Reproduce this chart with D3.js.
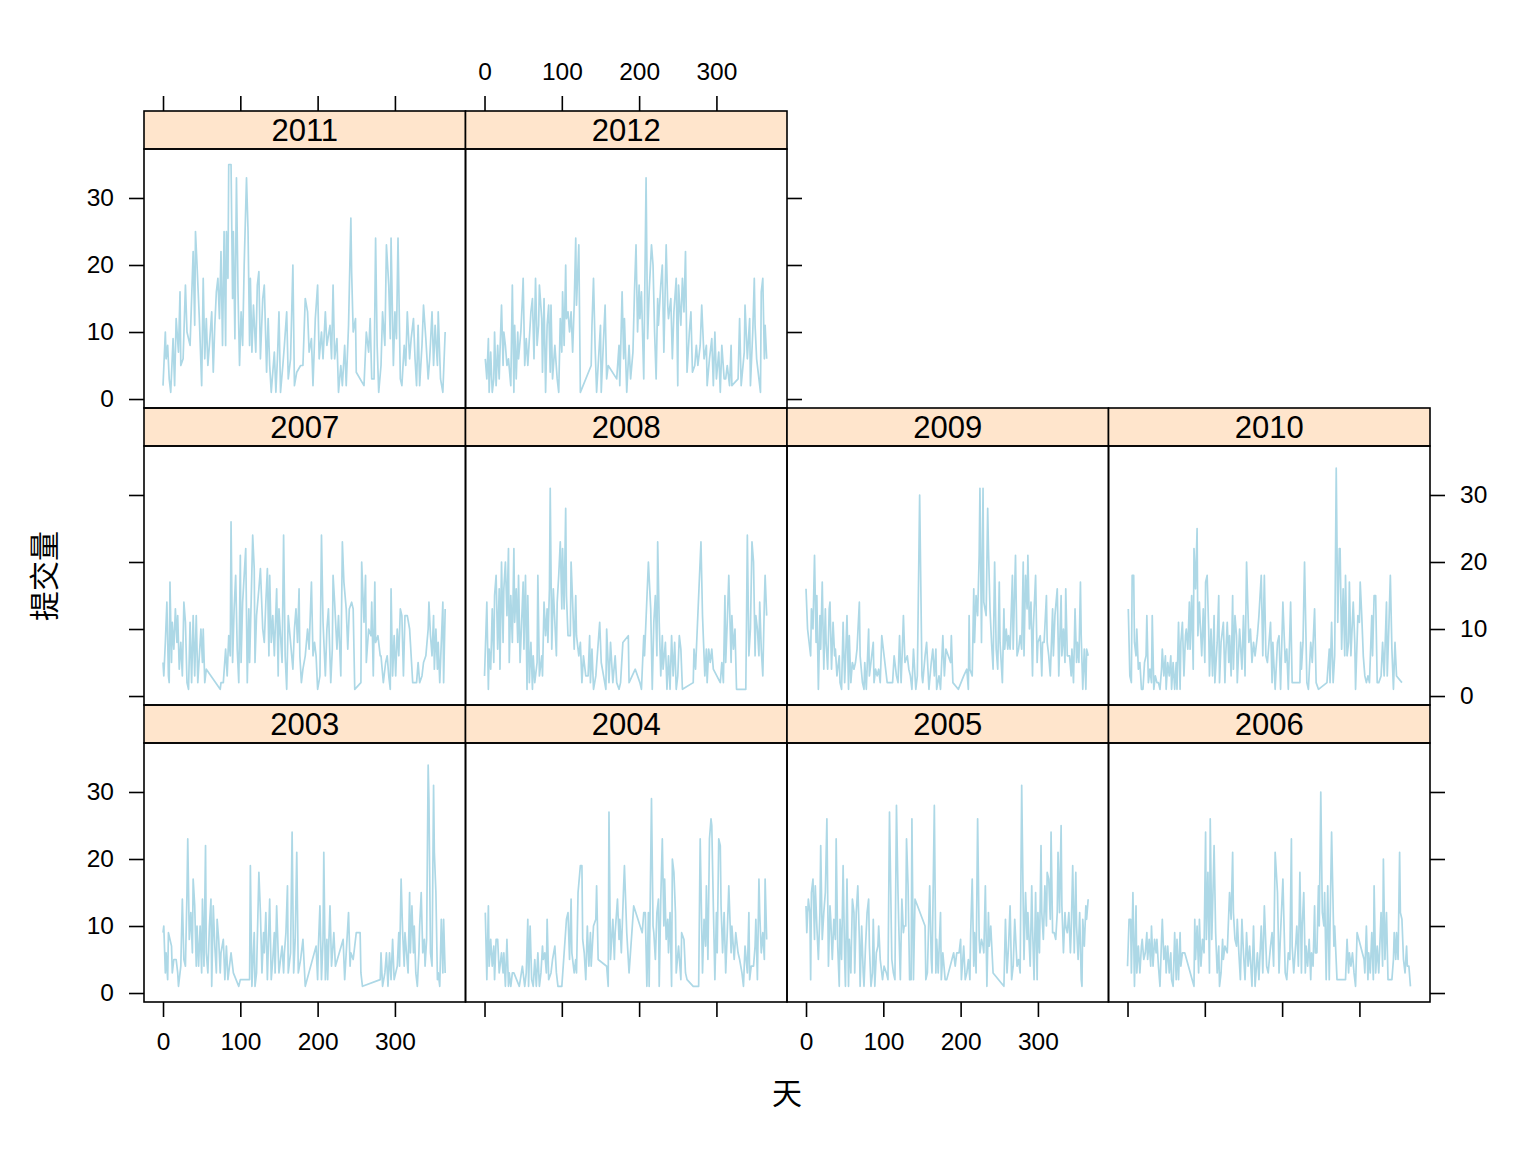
<!DOCTYPE html>
<html>
<head>
<meta charset="utf-8">
<script src="https://cdn.jsdelivr.net/npm/d3@7"></script>
<style>
  body { margin: 0; background: #fff; }
  text { font-family: "Liberation Sans", Arial, sans-serif; }
</style>
</head>
<body>
<div id="chart"></div>
<script>
// daily submission counts per year, [day, count]
const y2003 = [[0,9],[1,10],[3,3],[4,6],[6,2],[7,9],[9,8],[11,7],[12,3],[14,5],[17,5],[19,3],[20,1],[23,4],[25,14],[27,5],[29,4],[31,15],[32,23],[34,8],[36,12],[38,6],[39,17],[41,13],[43,4],[44,10],[46,4],[48,10],[50,3],[51,14],[53,4],[55,22],[56,6],[58,3],[60,10],[62,14],[63,1],[65,13],[67,7],[69,3],[70,11],[72,8],[74,3],[75,6],[78,8],[80,2],[82,7],[84,2],[87,5],[88,6],[91,3],[98,1],[100,2],[112,2],[113,19],[115,1],[118,9],[119,1],[121,3],[124,18],[126,12],[128,3],[130,9],[131,6],[133,12],[135,2],[137,10],[138,14],[140,2],[142,5],[144,9],[145,3],[147,13],[149,6],[150,3],[152,5],[154,7],[156,3],[157,6],[159,9],[161,16],[162,3],[165,6],[167,24],[169,3],[171,8],[173,21],[175,3],[178,5],[181,8],[184,1],[198,7],[200,2],[201,7],[203,13],[205,2],[207,8],[208,21],[210,2],[212,8],[213,2],[216,13],[218,4],[221,9],[223,4],[233,8],[235,2],[238,8],[240,12],[242,4],[243,6],[246,5],[250,9],[255,9],[256,3],[258,1],[281,2],[282,6],[284,1],[287,3],[289,6],[291,1],[293,6],[295,2],[297,8],[299,2],[301,3],[303,4],[305,9],[306,4],[308,17],[310,9],[312,4],[313,9],[315,6],[317,3],[319,15],[320,6],[322,13],[324,6],[325,10],[327,3],[329,1],[331,6],[332,10],[334,15],[336,6],[338,8],[339,4],[341,8],[343,34],[344,29],[346,6],[348,4],[350,31],[351,21],[353,15],[355,2],[356,3],[358,1],[360,11],[362,3],[363,11],[365,3]];
const y2004 = [[1,12],[3,2],[5,13],[6,4],[8,8],[10,4],[12,7],[13,2],[15,8],[17,8],[19,3],[20,4],[22,6],[24,3],[25,6],[27,1],[29,8],[31,1],[32,3],[34,1],[36,3],[38,3],[45,1],[49,4],[50,3],[52,1],[54,3],[56,11],[57,1],[59,10],[61,2],[63,1],[65,5],[67,1],[69,6],[71,1],[73,3],[75,7],[76,5],[78,6],[80,3],[81,11],[83,2],[86,3],[88,5],[91,7],[93,3],[95,1],[100,1],[106,11],[108,12],[110,5],[112,14],[113,6],[116,3],[118,5],[119,3],[121,15],[124,19],[126,19],[127,8],[129,6],[131,2],[133,10],[135,4],[137,9],[138,4],[141,10],[144,11],[145,16],[147,5],[158,4],[160,1],[161,27],[163,5],[166,11],[168,5],[169,9],[172,14],[174,8],[175,11],[177,6],[180,16],[181,19],[184,9],[187,3],[193,13],[204,9],[206,12],[208,12],[210,1],[212,12],[213,1],[216,29],[218,10],[219,9],[221,5],[223,12],[225,14],[226,1],[228,14],[230,23],[232,10],[233,17],[235,8],[237,11],[238,6],[240,12],[242,1],[243,20],[245,18],[247,12],[248,3],[251,7],[254,2],[255,9],[258,8],[260,3],[262,2],[270,1],[277,1],[279,23],[282,3],[284,11],[286,7],[287,16],[289,5],[291,23],[293,26],[294,25],[296,13],[298,2],[300,12],[301,6],[303,23],[305,22],[306,13],[308,6],[310,12],[312,3],[314,9],[316,16],[319,6],[320,10],[323,5],[325,9],[328,6],[330,5],[333,3],[335,1],[337,7],[340,3],[342,12],[343,2],[345,4],[348,4],[350,7],[351,11],[353,2],[355,17],[356,12],[358,6],[360,9],[362,5],[363,17],[365,8]];
const y2005 = [[0,13],[1,9],[3,14],[5,12],[6,2],[7,15],[9,17],[11,8],[12,16],[14,10],[16,5],[18,12],[19,22],[21,8],[23,12],[25,15],[27,26],[29,4],[31,13],[32,11],[34,5],[36,11],[38,8],[39,23],[41,7],[43,1],[44,11],[46,5],[48,19],[50,5],[51,1],[53,17],[55,1],[56,8],[58,3],[60,14],[62,12],[63,3],[65,12],[67,16],[69,8],[70,1],[72,10],[74,3],[75,1],[77,7],[79,12],[81,14],[82,7],[84,1],[86,3],[87,11],[89,1],[91,6],[93,7],[94,10],[96,5],[99,2],[101,4],[104,3],[106,2],[108,27],[111,5],[113,3],[115,2],[117,28],[119,15],[120,10],[122,2],[124,14],[126,9],[127,10],[129,10],[130,23],[132,16],[134,2],[136,2],[137,26],[139,2],[141,14],[154,10],[155,2],[157,3],[160,16],[162,5],[163,3],[166,28],[168,3],[169,8],[171,3],[174,12],[175,2],[177,6],[180,2],[182,2],[191,6],[193,4],[195,6],[198,6],[200,8],[201,2],[204,7],[206,2],[208,3],[210,5],[212,2],[213,9],[215,17],[217,4],[218,9],[220,3],[222,26],[224,8],[225,6],[227,8],[229,7],[230,6],[232,16],[234,1],[236,12],[237,7],[239,10],[242,3],[256,1],[258,11],[260,3],[262,7],[264,13],[266,2],[268,4],[270,11],[273,4],[275,5],[277,3],[279,31],[281,13],[282,5],[284,15],[286,8],[287,12],[290,4],[292,16],[293,10],[295,2],[297,15],[299,2],[300,12],[302,6],[304,22],[305,12],[307,8],[309,16],[311,10],[312,18],[314,17],[316,11],[317,24],[319,9],[321,9],[323,8],[325,12],[326,21],[328,12],[330,25],[331,13],[333,6],[335,12],[336,10],[338,9],[340,12],[342,6],[343,9],[345,19],[347,6],[349,18],[350,10],[352,5],[354,12],[356,2],[357,1],[358,11],[360,7],[362,13],[363,11],[365,14]];
const y2006 = [[0,4],[2,11],[4,11],[5,3],[7,15],[9,1],[11,13],[12,3],[14,7],[16,3],[18,7],[19,8],[21,5],[23,6],[25,9],[26,5],[28,8],[30,4],[31,10],[33,4],[35,8],[37,6],[38,8],[40,4],[42,1],[44,8],[45,11],[47,5],[49,7],[50,3],[52,7],[54,3],[56,6],[57,2],[59,1],[61,9],[63,2],[64,8],[66,2],[68,9],[69,4],[71,6],[74,6],[86,1],[87,11],[88,5],[90,10],[92,3],[93,11],[95,4],[97,8],[99,6],[101,24],[102,8],[104,18],[106,3],[107,26],[109,8],[111,17],[112,22],[114,9],[116,3],[118,7],[119,1],[121,3],[123,8],[124,5],[126,7],[129,6],[131,12],[132,15],[134,11],[136,21],[137,12],[139,8],[141,7],[142,11],[144,6],[146,2],[148,11],[150,6],[152,2],[154,9],[156,4],[158,7],[161,1],[163,10],[165,1],[168,6],[170,2],[173,10],[175,3],[177,13],[180,4],[182,3],[185,7],[187,9],[189,4],[191,21],[194,15],[196,3],[198,9],[201,17],[204,3],[206,2],[208,6],[210,5],[212,23],[213,7],[215,3],[218,8],[219,10],[221,4],[223,18],[225,3],[226,10],[228,15],[230,3],[231,7],[233,4],[235,8],[237,2],[238,6],[240,4],[242,13],[243,6],[245,6],[247,16],[248,10],[250,30],[252,12],[254,10],[255,15],[257,2],[259,16],[261,2],[262,10],[264,24],[267,7],[268,10],[271,2],[282,2],[284,8],[286,3],[287,6],[289,4],[291,6],[293,3],[295,1],[297,9],[306,5],[307,3],[309,10],[311,2],[312,6],[314,3],[316,9],[318,2],[319,16],[321,3],[323,7],[325,3],[326,6],[328,12],[330,4],[331,20],[333,5],[335,12],[337,2],[342,2],[344,5],[345,9],[347,5],[348,9],[350,5],[352,21],[353,12],[355,11],[357,5],[359,3],[361,7],[362,4],[364,4],[366,1]];
const y2007 = [[0,5],[1,3],[3,8],[5,14],[7,3],[8,2],[9,17],[11,5],[12,11],[14,7],[16,13],[18,8],[19,12],[21,4],[23,8],[25,3],[27,14],[29,11],[31,2],[33,1],[35,11],[37,2],[39,12],[41,3],[43,12],[45,2],[47,6],[49,10],[51,5],[52,10],[54,2],[56,4],[74,1],[75,2],[78,2],[81,7],[83,3],[85,9],[87,6],[88,26],[90,5],[92,13],[94,18],[96,7],[98,2],[100,21],[101,5],[103,14],[105,18],[107,22],[109,2],[111,13],[112,5],[114,14],[116,24],[118,19],[119,5],[121,12],[124,16],[126,19],[129,10],[131,8],[133,14],[135,19],[137,6],[138,18],[140,8],[142,12],[144,6],[147,16],[149,3],[150,13],[152,9],[154,5],[156,24],[158,6],[160,1],[162,12],[165,8],[168,4],[170,10],[172,13],[174,8],[176,16],[177,6],[179,2],[181,4],[184,6],[187,10],[189,7],[192,17],[194,6],[196,8],[198,6],[200,1],[203,3],[205,24],[207,11],[210,3],[212,10],[214,13],[217,2],[219,7],[220,18],[222,14],[225,7],[227,12],[230,3],[232,23],[234,17],[237,13],[239,7],[241,13],[244,14],[246,13],[248,1],[256,2],[257,20],[260,11],[262,18],[263,5],[266,10],[269,9],[270,14],[272,3],[274,17],[275,8],[278,9],[281,6],[282,6],[285,2],[288,5],[290,6],[292,3],[294,1],[295,16],[297,3],[299,9],[301,3],[303,10],[305,6],[307,13],[309,12],[311,3],[313,12],[316,12],[319,10],[320,8],[323,2],[326,2],[328,2],[330,5],[332,2],[335,3],[337,5],[340,6],[343,10],[344,14],[346,9],[348,6],[350,12],[351,4],[353,10],[355,4],[356,8],[358,2],[360,8],[362,14],[363,2],[365,13]];
const y2008 = [[0,3],[3,14],[5,1],[6,7],[8,4],[10,13],[12,5],[13,15],[15,18],[17,7],[19,16],[20,4],[22,20],[24,8],[25,16],[27,20],[29,12],[31,22],[32,5],[34,15],[36,8],[38,22],[39,11],[41,16],[43,8],[44,18],[46,5],[48,11],[50,17],[51,7],[53,18],[55,1],[56,15],[58,2],[60,8],[62,1],[63,6],[65,2],[68,5],[69,18],[71,3],[74,6],[75,3],[77,14],[79,9],[81,13],[82,8],[84,16],[85,31],[87,7],[89,16],[91,11],[93,6],[94,14],[96,18],[98,23],[100,13],[101,22],[103,13],[105,28],[106,15],[108,9],[111,9],[112,20],[114,14],[116,7],[118,15],[119,9],[122,6],[124,8],[126,2],[128,6],[131,3],[134,3],[136,9],[137,2],[139,7],[141,1],[144,3],[149,11],[151,5],[154,3],[157,1],[158,10],[161,2],[163,8],[166,2],[169,6],[171,2],[174,1],[176,2],[179,8],[186,9],[187,2],[195,4],[201,2],[203,1],[206,9],[207,6],[212,20],[215,13],[217,1],[219,11],[221,15],[223,6],[224,23],[226,11],[228,3],[230,9],[231,4],[234,8],[236,1],[238,6],[240,1],[242,9],[244,3],[246,8],[248,1],[250,3],[252,9],[254,7],[256,1],[270,2],[271,7],[273,4],[280,23],[282,12],[285,3],[287,7],[288,2],[290,7],[292,5],[294,7],[296,4],[305,2],[307,5],[309,2],[311,15],[312,5],[314,11],[316,18],[319,5],[320,12],[322,7],[324,10],[326,1],[338,1],[339,12],[340,24],[342,6],[344,10],[346,23],[348,20],[350,6],[351,12],[353,10],[355,6],[356,14],[358,7],[360,3],[362,14],[363,18],[365,12]];
const y2009 = [[0,16],[2,10],[6,6],[7,13],[9,10],[11,21],[13,8],[14,15],[16,1],[18,12],[19,7],[21,17],[23,4],[25,13],[26,8],[28,4],[30,13],[31,14],[33,4],[35,11],[37,6],[38,7],[40,3],[43,6],[44,2],[46,1],[48,11],[50,2],[51,5],[53,12],[55,1],[56,9],[58,2],[60,5],[62,4],[64,5],[66,7],[69,14],[70,6],[73,2],[75,1],[76,5],[78,1],[81,10],[82,3],[84,5],[87,8],[88,2],[90,4],[92,3],[94,4],[96,2],[98,9],[105,2],[112,2],[114,6],[117,3],[119,2],[121,9],[123,2],[124,5],[126,12],[128,5],[131,6],[133,4],[135,3],[137,1],[139,7],[142,1],[144,3],[147,30],[150,3],[151,2],[154,6],[156,8],[159,1],[162,5],[164,7],[166,3],[168,7],[169,1],[172,3],[174,1],[177,9],[179,3],[181,7],[184,6],[187,5],[188,9],[190,2],[197,1],[204,3],[208,4],[210,1],[211,12],[212,4],[215,3],[217,16],[218,8],[220,15],[222,12],[224,21],[225,31],[227,8],[229,31],[230,14],[233,12],[235,28],[236,22],[238,13],[240,8],[242,4],[244,20],[246,7],[248,4],[250,17],[251,8],[254,2],[256,13],[257,7],[259,10],[261,7],[262,9],[264,7],[267,18],[268,7],[271,21],[273,6],[275,7],[277,9],[279,7],[281,20],[282,6],[284,18],[286,13],[287,21],[289,10],[291,14],[293,3],[294,10],[297,18],[299,5],[300,8],[303,9],[305,3],[306,8],[308,8],[311,15],[312,8],[314,6],[316,3],[319,13],[320,6],[322,12],[325,16],[327,3],[330,15],[331,6],[333,10],[335,5],[336,16],[338,6],[341,6],[343,3],[344,7],[346,2],[348,13],[350,5],[351,8],[353,5],[355,17],[356,9],[358,1],[360,7],[362,1],[363,7],[365,6]];
const y2010 = [[1,13],[3,3],[5,2],[6,18],[8,18],[9,8],[11,6],[12,10],[14,4],[16,5],[18,1],[20,1],[22,5],[24,6],[25,12],[27,2],[29,4],[31,2],[32,12],[34,1],[36,3],[38,2],[40,2],[42,1],[44,4],[45,7],[47,3],[49,6],[50,1],[52,5],[54,3],[56,6],[57,1],[59,5],[61,1],[63,5],[64,1],[66,11],[68,1],[69,8],[71,11],[73,3],[75,9],[76,10],[78,7],[80,14],[81,7],[83,15],[85,4],[86,22],[88,16],[90,25],[91,9],[93,14],[94,11],[96,6],[98,13],[100,5],[101,17],[103,18],[105,10],[106,3],[108,10],[110,3],[112,12],[113,2],[116,8],[118,15],[119,2],[121,8],[124,11],[126,2],[127,6],[129,11],[131,5],[132,9],[134,3],[136,15],[137,4],[139,12],[141,9],[142,2],[145,10],[148,4],[150,12],[152,3],[154,20],[157,8],[159,10],[161,5],[163,8],[165,6],[168,9],[170,12],[173,18],[175,6],[177,18],[179,6],[181,5],[185,11],[187,2],[188,8],[191,1],[194,8],[196,9],[198,1],[201,14],[204,5],[206,7],[208,1],[211,14],[213,2],[223,2],[224,8],[225,4],[227,8],[229,20],[232,2],[234,1],[237,8],[239,5],[242,13],[244,2],[247,1],[258,2],[261,7],[262,2],[264,11],[266,2],[268,6],[270,34],[272,11],[274,22],[275,22],[277,7],[279,16],[281,6],[282,18],[284,6],[286,8],[287,17],[289,6],[292,14],[294,8],[295,1],[298,12],[300,11],[301,17],[303,12],[305,6],[307,3],[309,2],[311,3],[313,2],[316,12],[317,6],[319,15],[321,15],[323,2],[325,2],[328,3],[330,8],[332,3],[335,14],[336,3],[338,10],[340,18],[342,7],[344,1],[346,8],[348,3],[355,2]];
const y2011 = [[0,2],[3,10],[4,6],[6,8],[8,3],[10,1],[13,9],[15,2],[17,12],[20,7],[22,16],[23,5],[26,6],[29,17],[31,10],[35,8],[37,15],[39,22],[41,11],[42,25],[44,20],[47,12],[50,2],[52,18],[54,6],[56,12],[58,5],[60,8],[63,13],[65,4],[67,11],[69,16],[71,18],[73,12],[75,22],[77,8],[79,25],[81,8],[82,25],[84,18],[85,35],[88,35],[90,15],[91,25],[93,9],[95,33],[97,16],[99,5],[101,13],[103,8],[105,20],[108,33],[110,25],[112,8],[113,18],[115,7],[117,14],[120,7],[122,17],[124,19],[126,6],[129,15],[131,17],[134,4],[136,12],[138,5],[140,1],[144,7],[146,1],[148,6],[150,13],[152,1],[155,5],[157,8],[160,13],[162,3],[165,6],[168,20],[170,2],[173,4],[178,5],[181,5],[184,15],[187,13],[189,7],[192,9],[194,2],[197,12],[200,17],[202,6],[205,10],[207,6],[210,13],[212,8],[216,11],[218,6],[220,17],[222,6],[225,9],[227,1],[230,5],[232,2],[235,8],[237,2],[240,11],[243,27],[244,19],[246,10],[249,12],[250,4],[260,2],[263,10],[266,7],[268,12],[270,3],[273,3],[275,24],[277,8],[279,1],[282,5],[284,13],[287,8],[289,23],[292,17],[294,9],[295,24],[298,5],[300,13],[302,9],[304,24],[305,17],[307,3],[309,2],[312,8],[314,5],[316,13],[319,6],[321,9],[324,12],[326,6],[328,2],[330,11],[332,2],[335,8],[337,14],[340,9],[343,3],[345,6],[348,13],[350,5],[352,11],[355,5],[356,13],[359,3],[362,1],[365,10]];
const y2012 = [[1,6],[3,3],[5,9],[6,1],[8,7],[10,1],[12,3],[13,10],[15,2],[17,8],[19,3],[20,7],[22,14],[24,5],[25,10],[27,8],[29,5],[31,6],[34,2],[36,17],[38,1],[39,11],[41,3],[43,10],[44,6],[47,10],[49,15],[50,18],[52,5],[54,9],[56,5],[58,9],[60,13],[62,15],[64,6],[66,18],[68,8],[70,11],[71,17],[74,12],[75,4],[77,15],[79,1],[81,11],[83,14],[85,4],[86,14],[88,3],[91,8],[94,3],[96,1],[98,12],[100,7],[101,16],[103,8],[105,20],[106,12],[108,13],[110,10],[112,13],[114,7],[116,14],[118,24],[119,14],[122,23],[124,1],[138,5],[139,11],[141,18],[143,8],[145,1],[148,7],[150,11],[151,1],[154,9],[156,14],[158,3],[160,5],[171,3],[174,8],[175,2],[178,16],[180,6],[181,12],[184,1],[187,8],[189,3],[192,7],[194,16],[196,23],[198,10],[200,17],[201,12],[203,16],[206,3],[207,13],[209,33],[211,9],[213,16],[216,23],[218,20],[220,10],[222,3],[224,15],[225,11],[228,17],[230,20],[232,7],[235,23],[237,14],[238,12],[241,15],[243,6],[245,13],[248,18],[250,2],[251,17],[254,11],[256,18],[258,13],[260,22],[262,4],[265,10],[267,13],[269,4],[272,5],[274,8],[276,5],[279,8],[281,14],[284,6],[287,8],[288,2],[291,6],[294,9],[296,2],[298,10],[300,3],[303,7],[305,1],[307,8],[310,3],[312,3],[314,5],[317,2],[319,8],[320,2],[328,3],[330,12],[332,2],[336,7],[337,14],[340,6],[343,12],[344,2],[347,10],[349,18],[350,11],[352,6],[355,3],[357,1],[358,16],[360,18],[362,6],[363,11],[365,6]];

const years = [2003, 2004, 2005, 2006, 2007, 2008, 2009, 2010, 2011, 2012];
const yearData = [y2003, y2004, y2005, y2006, y2007, y2008, y2009, y2010, y2011, y2012];
const xTicks = [0, 100, 200, 300];
const yTicks = [0, 10, 20, 30];

let gridLeft = 144, gridTop = 111,
    pw = 321.5, stripH = 38, ph = 259, rowH = 297;

let svg = d3.select("#chart")
    .append("svg")
    .attr("width", 1536)
    .attr("height", 1152);

let x = d3.scaleLinear().domain([-24.6, 391.3]).range([0, pw]);
let y = d3.scaleLinear().domain([-1.34, 37.31]).range([ph, 0]);

let line = d3.line()
    .x(function (d) { return x(d[0]); })
    .y(function (d) { return y(d[1]); });

svg.append("defs").append("clipPath")
    .attr("id", "clip")
    .append("rect")
    .attr("width", pw)
    .attr("height", ph);

// panels, bottom row first like lattice
years.forEach(function (yr, i) {
    let col = i % 4, row = 2 - Math.floor(i / 4);
    let gx = gridLeft + col * pw, gy = gridTop + row * rowH;
    let g = svg.append("g").attr("transform", "translate(" + gx + "," + gy + ")");

    // strip
    g.append("rect")
        .attr("width", pw).attr("height", stripH)
        .attr("fill", "#ffe5cc").attr("stroke", "#000").attr("stroke-width", 1.6);
    g.append("text")
        .attr("x", pw / 2).attr("y", stripH / 2)
        .attr("dy", "0.36em")
        .attr("text-anchor", "middle")
        .style("font-size", "31px")
        .text(yr);

    let p = g.append("g").attr("transform", "translate(0," + stripH + ")");
    p.append("g").attr("clip-path", "url(#clip)")
        .append("path")
        .datum(yearData[i])
        .attr("d", line)
        .attr("fill", "none")
        .attr("stroke", "#add8e6")
        .attr("stroke-width", 1.7)
        .attr("stroke-linejoin", "round");
    p.append("rect")
        .attr("width", pw).attr("height", ph)
        .attr("fill", "none").attr("stroke", "#000").attr("stroke-width", 1.6);
});

function styleAxis(sel, labelled) {
    sel.select(".domain").remove();
    sel.selectAll(".tick line").attr("stroke", "#000").attr("stroke-width", 1.6);
    sel.selectAll(".tick text")
        .style("font-size", "24.5px")
        .style("font-family", "'Liberation Sans', Arial, sans-serif")
        .attr("fill", "#000");
    if (!labelled) sel.selectAll(".tick text").remove();
}

// left and right axes per row
[0, 1, 2].forEach(function (row) {
    let py = gridTop + row * rowH + stripH;
    let ax = svg.append("g")
        .attr("transform", "translate(" + gridLeft + "," + py + ")")
        .call(d3.axisLeft(y).tickValues(yTicks).tickSize(15).tickPadding(15).tickSizeOuter(0));
    styleAxis(ax, row !== 1);
    let rightX = row === 0 ? gridLeft + 2 * pw : gridLeft + 4 * pw;
    let ar = svg.append("g")
        .attr("transform", "translate(" + rightX + "," + py + ")")
        .call(d3.axisRight(y).tickValues(yTicks).tickSize(15).tickPadding(15).tickSizeOuter(0));
    styleAxis(ar, row === 1);
});

// top axes (top row has two panels)
[0, 1].forEach(function (col) {
    let at = svg.append("g")
        .attr("transform", "translate(" + (gridLeft + col * pw) + "," + gridTop + ")")
        .call(d3.axisTop(x).tickValues(xTicks).tickSize(15).tickPadding(16).tickSizeOuter(0));
    styleAxis(at, col === 1);
});

// bottom axes
[0, 1, 2, 3].forEach(function (col) {
    let ab = svg.append("g")
        .attr("transform", "translate(" + (gridLeft + col * pw) + "," + (gridTop + 2 * rowH + stripH + ph) + ")")
        .call(d3.axisBottom(x).tickValues(xTicks).tickSize(15).tickPadding(16).tickSizeOuter(0));
    styleAxis(ab, col % 2 === 0);
});

// axis titles
svg.append("text")
    .attr("x", gridLeft + 2 * pw).attr("y", 1093)
    .attr("dy", "0.36em")
    .attr("text-anchor", "middle")
    .style("font-family", "'Noto Sans CJK SC', sans-serif")
    .style("font-size", "30px")
    .text("天");

svg.append("text")
    .attr("transform", "translate(44,576) rotate(-90)")
    .attr("dy", "0.36em")
    .attr("text-anchor", "middle")
    .style("font-family", "'Noto Sans CJK SC', sans-serif")
    .style("font-size", "30px")
    .text("提交量");
</script>
</body>
</html>
